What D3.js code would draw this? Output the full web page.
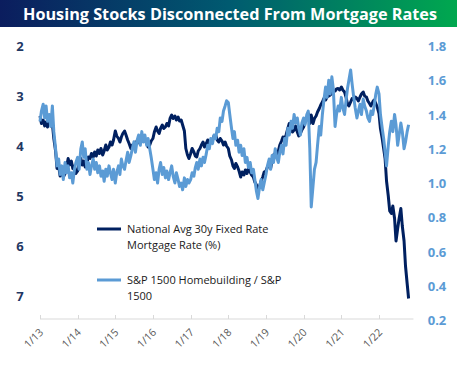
<!DOCTYPE html>
<html lang="en">
<head>
<meta charset="utf-8">
<title>Housing Stocks Disconnected From Mortgage Rates</title>
<style>
  body { margin: 0; background: #fff; }
  .chart text { font-family: "Open Sans", "Noto Sans", sans-serif; }
  .chart .title { font-size: 16px; font-weight: bold; fill: #fff; }
  .chart .left-tick { font-size: 13px; font-weight: bold; fill: #1f3864; }
  .chart .right-tick { font-size: 13px; font-weight: bold; fill: #5b9bd5; }
  .chart .x-tick { font-size: 10.5px; fill: #595959; }
  .chart .legend { font-size: 11px; fill: #1a1a1a; }
  .chart .line { fill: none; stroke-linejoin: round; stroke-width: 3; }
</style>
</head>
<body>
<svg class="chart" width="463" height="366"></svg>
<script src="https://cdn.jsdelivr.net/npm/d3@7/dist/d3.min.js"></script>
<script>
// twice-monthly readings (1st and 15th), Jan 2013 .. Oct 2022
var mortgageRate = [
  3.40, 3.55, 3.48, 3.60, 3.52, 3.62, 3.42, 3.50, 3.55, 3.85, 4.10, 4.45, 4.40, 4.60, 4.50, 4.62, 4.55, 4.42, 4.25, 4.38, 4.30, 4.45, 4.40, 4.55,   // 2013
  4.50, 4.35, 4.25, 4.38, 4.30, 4.42, 4.35, 4.22, 4.25, 4.15, 4.22, 4.12, 4.20, 4.08, 4.15, 4.05, 4.18, 4.10, 3.98, 4.08, 4.02, 3.92, 3.98, 3.88,   // 2014
  3.70, 3.80, 3.85, 3.92, 3.82, 3.75, 3.70, 3.78, 3.88, 3.95, 4.05, 3.98, 4.02, 3.92, 3.95, 3.85, 3.88, 3.78, 3.82, 3.88, 3.92, 4.02, 3.98, 3.90,   // 2015
  3.85, 3.72, 3.62, 3.70, 3.75, 3.65, 3.58, 3.65, 3.62, 3.55, 3.60, 3.45, 3.38, 3.45, 3.40, 3.48, 3.42, 3.50, 3.48, 3.58, 3.70, 4.05, 4.18, 4.25,   // 2016
  4.15, 4.05, 4.12, 4.20, 4.22, 4.10, 4.05, 3.98, 3.92, 4.02, 3.95, 3.88, 3.96, 3.90, 3.88, 3.80, 3.78, 3.88, 3.92, 3.85, 3.90, 3.98, 3.92, 4.00,   // 2017
  4.05, 4.20, 4.28, 4.40, 4.45, 4.35, 4.42, 4.50, 4.62, 4.52, 4.58, 4.48, 4.55, 4.45, 4.52, 4.58, 4.62, 4.72, 4.78, 4.85, 4.80, 4.70, 4.62, 4.52,   // 2018
  4.50, 4.42, 4.38, 4.45, 4.30, 4.18, 4.15, 4.22, 4.10, 3.98, 3.90, 3.82, 3.85, 3.78, 3.65, 3.55, 3.62, 3.72, 3.68, 3.60, 3.72, 3.80, 3.75, 3.68,   // 2019
  3.62, 3.52, 3.45, 3.35, 3.55, 3.38, 3.55, 3.45, 3.40, 3.32, 3.25, 3.18, 3.12, 3.05, 3.08, 3.02, 3.00, 2.98, 2.95, 2.92, 2.90, 2.86, 2.85, 2.88,   // 2020
  2.82, 2.88, 2.92, 3.02, 3.15, 3.20, 3.12, 3.05, 3.08, 3.02, 3.05, 3.10, 3.02, 2.96, 2.92, 3.00, 3.02, 3.10, 3.15, 3.20, 3.12, 3.08, 3.15, 3.22,   // 2021
  3.35, 3.65, 3.85, 4.05, 4.25, 4.70, 5.00, 5.30, 5.35, 5.20, 5.45, 5.90, 5.65, 5.45, 5.25, 5.60, 5.90, 6.40, 6.75, 7.05                           // 2022
];

var homebuildRatio = [
  1.36, 1.42, 1.46, 1.38, 1.45, 1.36, 1.40, 1.33, 1.45, 1.30, 1.20, 1.10, 1.14, 1.05, 1.10, 1.02, 1.12, 1.06, 1.10, 1.03, 1.06, 1.00, 1.08, 1.12,   // 2013
  1.15, 1.08, 1.20, 1.24, 1.15, 1.20, 1.08, 1.12, 1.05, 1.10, 1.14, 1.08, 1.12, 1.06, 1.10, 1.04, 1.07, 1.01, 1.08, 1.04, 1.10, 1.06, 1.02, 1.08,   // 2014
  1.00, 1.06, 1.10, 1.05, 1.14, 1.10, 1.08, 1.13, 1.18, 1.12, 1.16, 1.20, 1.24, 1.18, 1.25, 1.28, 1.22, 1.30, 1.24, 1.28, 1.22, 1.26, 1.20, 1.15,   // 2015
  1.08, 1.02, 1.06, 1.00, 1.08, 1.12, 1.05, 1.09, 1.03, 1.07, 1.02, 1.06, 1.10, 1.04, 1.00, 1.06, 1.02, 0.98, 1.00, 0.96, 1.03, 0.98, 1.02, 1.00,   // 2016
  1.02, 1.06, 1.04, 1.09, 1.12, 1.08, 1.14, 1.10, 1.15, 1.12, 1.17, 1.22, 1.20, 1.26, 1.23, 1.28, 1.26, 1.32, 1.30, 1.38, 1.36, 1.42, 1.45, 1.48,   // 2017
  1.47, 1.40, 1.32, 1.26, 1.30, 1.22, 1.25, 1.18, 1.22, 1.16, 1.20, 1.12, 1.15, 1.09, 1.12, 1.06, 1.08, 1.02, 0.95, 0.91, 0.98, 1.02, 0.96, 1.00,   // 2018
  1.05, 1.10, 1.14, 1.08, 1.16, 1.12, 1.20, 1.15, 1.12, 1.18, 1.22, 1.17, 1.26, 1.22, 1.32, 1.28, 1.36, 1.32, 1.40, 1.35, 1.38, 1.32, 1.28, 1.35,   // 2019
  1.38, 1.34, 1.40, 1.42, 1.20, 0.86, 0.98, 1.08, 1.12, 1.22, 1.33, 1.28, 1.40, 1.48, 1.56, 1.50, 1.60, 1.52, 1.62, 1.55, 1.33, 1.40, 1.45, 1.42,   // 2020
  1.50, 1.44, 1.40, 1.48, 1.55, 1.60, 1.66, 1.58, 1.50, 1.44, 1.38, 1.42, 1.46, 1.40, 1.49, 1.45, 1.42, 1.38, 1.36, 1.42, 1.40, 1.45, 1.52, 1.56,   // 2021
  1.52, 1.40, 1.32, 1.26, 1.18, 1.10, 1.22, 1.30, 1.36, 1.30, 1.40, 1.34, 1.22, 1.28, 1.35, 1.30, 1.20, 1.24, 1.30, 1.34                           // 2022
];

var leftTicks = [2, 3, 4, 5, 6, 7];
var rightTicks = [0.2, 0.4, 0.6, 0.8, 1.0, 1.2, 1.4, 1.6, 1.8];
var yearTicks = ['1/13', '1/14', '1/15', '1/16', '1/17', '1/18', '1/19', '1/20', '1/21', '1/22'];
var seriesNames = [
  ['National Avg 30y Fixed Rate', 'Mortgage Rate (%)'],
  ['S&P 1500 Homebuilding / S&P', '1500']
];
var colors = ['#002060', '#5b9bd5'];

// 1st and 15th of each month
var dates = [];
d3.timeMonth.range(new Date(2013, 0, 1), new Date(2022, 10, 1)).forEach(function(m) {
    dates.push(m, d3.timeDay.offset(m, 14));
});
var parseTick = d3.timeParse('%m/%y');

var svg = d3.select('.chart');

// title bar
var defs = svg.append('defs');
var grad = defs.append('linearGradient').attr('id', 'titleGrad');
grad.append('stop').attr('offset', '0%').attr('stop-color', '#0b1d5e');
grad.append('stop').attr('offset', '50%').attr('stop-color', '#005a70');
grad.append('stop').attr('offset', '100%').attr('stop-color', '#00a84f');

svg.append('rect')
    .attr('x', 0).attr('y', 0)
    .attr('width', 457).attr('height', 27)
    .attr('fill', 'url(#titleGrad)');

svg.append('text')
    .attr('class', 'title')
    .attr('x', 230).attr('y', 20)
    .attr('text-anchor', 'middle')
    .attr('textLength', 414)
    .attr('lengthAdjust', 'spacingAndGlyphs')
    .text('Housing Stocks Disconnected From Mortgage Rates');

// scales
var x = d3.scaleTime()
    .domain([new Date(2013, 0, 1), new Date(2022, 0, 1)])
    .range([40, 379]);
var yLeft = d3.scaleLinear().domain([2, 7]).range([46, 296]);
var yRight = d3.scaleLinear().domain([0.2, 1.8]).range([320, 46]);

var axisY = 319;

// x axis
var xAxis = svg.append('g').attr('transform', 'translate(0,' + axisY + ')');
xAxis.append('line')
    .attr('x1', 40).attr('x2', x(new Date(2022, 11, 1)))
    .attr('stroke', '#d9d9d9').attr('stroke-width', 1);
xAxis.selectAll('.tick-mark')
    .data(yearTicks)
    .enter().append('line')
    .attr('x1', function(d) { return Math.round(x(parseTick(d))) + 0.5; })
    .attr('x2', function(d) { return Math.round(x(parseTick(d))) + 0.5; })
    .attr('y1', -4).attr('y2', 0)
    .attr('stroke', '#d9d9d9');
xAxis.selectAll('.x-tick')
    .data(yearTicks)
    .enter().append('text')
    .attr('class', 'x-tick')
    .attr('text-anchor', 'end')
    .attr('transform', function(d) {
        return 'translate(' + (x(parseTick(d)) + 4) + ',14) rotate(-45)';
    })
    .text(function(d) { return d; });

// left axis
svg.append('g').selectAll('text')
    .data(leftTicks)
    .enter().append('text')
    .attr('class', 'left-tick')
    .attr('x', 20).attr('y', function(d) { return yLeft(d) + 5; })
    .attr('text-anchor', 'middle')
    .text(function(d) { return d; });

// right axis
svg.append('g').selectAll('text')
    .data(rightTicks)
    .enter().append('text')
    .attr('class', 'right-tick')
    .attr('x', 437).attr('y', function(d) { return yRight(d) + 5; })
    .attr('text-anchor', 'middle')
    .text(function(d) { return d.toFixed(1); });

// lines
var mortgageLine = d3.line()
    .x(function(d, i) { return x(dates[i]); })
    .y(function(d) { return yLeft(d); });
var ratioLine = d3.line()
    .x(function(d, i) { return x(dates[i]); })
    .y(function(d) { return yRight(d); });

svg.append('path')
    .datum(mortgageRate)
    .attr('class', 'line')
    .attr('stroke', colors[0])
    .attr('d', mortgageLine);

svg.append('path')
    .datum(homebuildRatio)
    .attr('class', 'line')
    .attr('stroke', colors[1])
    .attr('d', ratioLine);

// legend
var legend = svg.append('g');
var legendY = [229, 280];
seriesNames.forEach(function(lines, i) {
    legend.append('line')
        .attr('x1', 97).attr('x2', 121)
        .attr('y1', legendY[i]).attr('y2', legendY[i])
        .attr('stroke', colors[i]).attr('stroke-width', 3);
    lines.forEach(function(t, j) {
        legend.append('text')
            .attr('class', 'legend')
            .attr('x', 127).attr('y', legendY[i] + 4 + j * 16)
            .text(t);
    });
});
</script>
</body>
</html>
